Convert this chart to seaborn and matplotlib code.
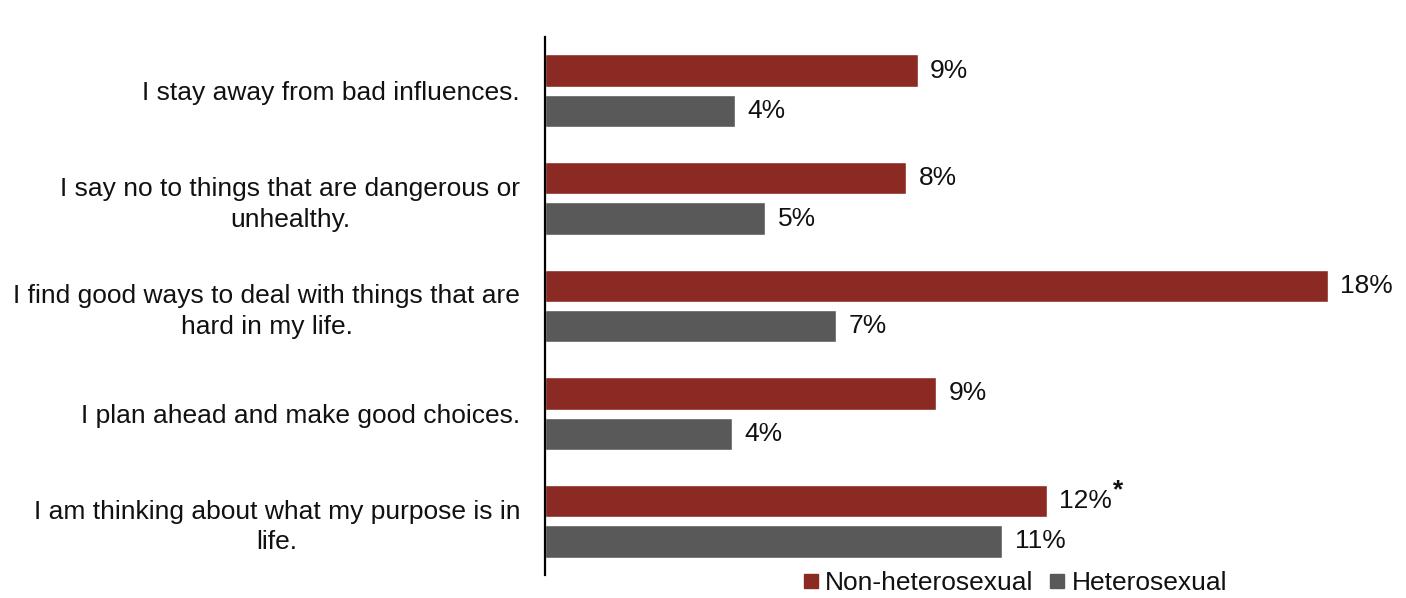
import matplotlib
matplotlib.use("Agg")
import matplotlib.pyplot as plt
from matplotlib.lines import Line2D
import seaborn as sns
import pandas as pd

categories = [
    "I stay away from bad influences.",
    "I say no to things that are dangerous or\nunhealthy.",
    "I find good ways to deal with things that are\nhard in my life.",
    "I plan ahead and make good choices.",
    "I am thinking about what my purpose is in\nlife.",
]
series_names = ["Non-heterosexual", "Heterosexual"]
nonhet_values = [8.57, 8.30, 18.0, 8.99, 11.54]
het_values = [4.37, 5.06, 6.69, 4.30, 10.52]
nonhet_labels = ["9%", "8%", "18%", "9%", "12%"]
het_labels = ["4%", "5%", "7%", "4%", "11%"]
significant = [False, False, False, False, True]

colors = {"Non-heterosexual": "#8B2A22", "Heterosexual": "#595959"}

df = pd.DataFrame({
    "category": categories * 2,
    "group": [series_names[0]] * len(categories) + [series_names[1]] * len(categories),
    "value": nonhet_values + het_values,
})

sns.set_theme(style="white")
plt.rcParams["font.family"] = ["Liberation Sans", "DejaVu Sans"]
FS = 19
TXT = "#111111"

fig = plt.figure(figsize=(14.06, 5.98), dpi=100)
ax = fig.add_axes([545 / 1406, 1 - 575 / 598, (1406 - 545) / 1406, (575 - 37) / 598])

sns.barplot(data=df, y="category", x="value", hue="group", order=categories,
            hue_order=series_names, palette=colors, orient="h",
            width=0.75, gap=0.2, ax=ax, legend=False, saturation=1)

ax.set_xlim(0, 19.8)
ax.set_ylim(4.5, -0.5)
ax.set_xlabel("")
ax.set_ylabel("")
ax.set_xticks([])
for s in ["top", "right", "bottom"]:
    ax.spines[s].set_visible(False)
ax.spines["left"].set_color("black")
ax.spines["left"].set_linewidth(1.6)
ax.tick_params(axis="y", length=0, pad=18)
for t in ax.get_yticklabels():
    t.set_fontsize(FS)
    t.set_color(TXT)
    t.set_multialignment("center")
    t.set_linespacing(1.35)

label_texts = []
for container, labels in zip(ax.containers, [nonhet_labels, het_labels]):
    texts = ax.bar_label(container, labels=labels, padding=9, fontsize=FS, color=TXT)
    label_texts.append(texts)

fig.canvas.draw()
renderer = fig.canvas.get_renderer()
for txt, sig in zip(label_texts[0], significant):
    if sig:
        bb = txt.get_window_extent(renderer)
        x, y = bb.x1, bb.y1
        fig.text(x / fig.bbox.width + 0.0005, y / fig.bbox.height - 0.002, "*",
                 fontsize=FS, fontweight="bold", color=TXT,
                 ha="left", va="center")

handles = [Line2D([0], [0], marker="s", linestyle="none", markersize=9.5,
                  markerfacecolor=colors[n], markeredgecolor=colors[n]) for n in series_names]
fig.legend(handles, series_names, loc="center", bbox_to_anchor=(1015 / 1406, 1 - 583 / 598),
           ncol=2, frameon=False, fontsize=FS, handlelength=0.6, handletextpad=0.25,
           columnspacing=0.6, borderpad=0, labelcolor=TXT)

fig.savefig("out.png", dpi=100)
